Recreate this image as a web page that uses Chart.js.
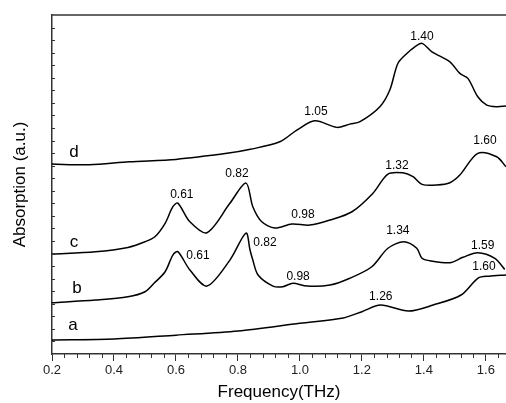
<!DOCTYPE html>
<html lang="en">
<head>
    <meta charset="UTF-8">
    <title>Absorption spectra</title>
    <script src="https://cdn.jsdelivr.net/npm/chart.js"></script>
    <style>
        html, body { margin: 0; padding: 0; background: #fff; }
        #wrap { width: 506px; height: 403px; }
    </style>
</head>
<body>
    <div id="wrap">
        <canvas id="absChart" width="506" height="403"></canvas>
    </div>
    <script>
        // curve a
        const freqA = [0.2, 0.4, 0.6, 0.8, 1.0, 1.14, 1.2, 1.26, 1.35, 1.43, 1.52, 1.575, 1.61, 1.665];
        const absA  = [1.11, 1.19, 1.5, 1.83, 2.45, 2.87, 3.37, 3.9, 3.42, 3.9, 4.7, 6.05, 6.2, 6.29];

        // curve b
        const freqB = [0.2, 0.34, 0.445, 0.5, 0.53, 0.565, 0.59, 0.606, 0.645, 0.70, 0.774, 0.826, 0.839, 0.848, 0.865,
                       0.913, 0.945, 0.977, 1.023, 1.097, 1.161, 1.232, 1.284, 1.335, 1.377, 1.394, 1.419,
                       1.484, 1.526, 1.574, 1.629, 1.661];
        const absB  = [4.08, 4.3, 4.56, 4.96, 5.65, 6.55, 7.88, 8.15, 6.69, 5.41, 7.48, 9.63, 8.28, 7.48, 6.29,
                       5.41, 5.36, 5.63, 5.41, 5.49, 6.03, 6.95, 8.42, 8.94, 8.42, 7.62, 7.43,
                       7.27, 7.7, 8.07, 7.62, 6.74];

        // curve c
        const freqC = [0.2, 0.34, 0.445, 0.5, 0.532, 0.565, 0.59, 0.606, 0.645, 0.70, 0.774, 0.826, 0.848, 0.877,
                       0.919, 0.974, 1.032, 1.097, 1.168, 1.235, 1.284, 1.332, 1.365, 1.394, 1.442,
                       1.484, 1.516, 1.574, 1.635, 1.665];
        const absC  = [7.96, 8.14, 8.49, 8.94, 9.34, 10.41, 11.73, 12.02, 10.53, 9.66, 12.0, 13.61, 11.73, 10.53,
                       10.03, 10.35, 10.27, 10.67, 11.33, 12.79, 14.33, 14.43, 14.12, 13.51, 13.46,
                       13.64, 14.25, 15.98, 15.71, 14.91];

        // curve d
        const freqD = [0.2, 0.32, 0.45, 0.6, 0.77, 0.84, 0.935, 0.99, 1.048, 1.119, 1.161, 1.194, 1.258,
                       1.29, 1.316, 1.345, 1.37, 1.394, 1.426, 1.484, 1.516, 1.542, 1.574, 1.603, 1.635, 1.665];
        const absD  = [15.13, 15.07, 15.31, 15.5, 16.0, 16.3, 16.9, 17.83, 18.57, 18.05, 18.31, 18.5, 19.69,
                       21.02, 23.14, 23.94, 24.45, 24.74, 24.07, 23.27, 22.35, 21.95, 20.49, 19.82, 19.69, 19.75];

        // text on the plot, placed at data coordinates
        const noteText = ['a', '1.26', '1.60', 'b', '0.61', '0.82', '0.98', '1.34', '1.59',
                          'c', '0.61', '0.82', '0.98', '1.32', '1.60', 'd', '1.05', '1.40'];
        const noteFreq = [0.268, 1.261, 1.594, 0.281, 0.671, 0.887, 0.994, 1.316, 1.59,
                          0.271, 0.619, 0.797, 1.01, 1.313, 1.597, 0.271, 1.052, 1.394];
        const noteAbs  = [2.31, 4.54, 6.93, 5.25, 7.8, 8.84, 6.13, 9.79, 8.6,
                          8.92, 12.66, 14.33, 11.07, 14.97, 16.96, 16.08, 19.27, 25.24];

        const xMin = 0.2, xMax = 1.665;
        const yMin = 0, yMax = 27;

        function toPoints(xs, ys) {
            return xs.map((x, i) => ({ x: x, y: ys[i] }));
        }

        function isMajor(v) {
            return Math.abs(v * 5 - Math.round(v * 5)) < 1e-6;
        }

        const framePlugin = {
            id: 'frame',
            afterDraw(chart) {
                const ctx = chart.ctx;
                const area = chart.chartArea;
                const xs = chart.scales.x;
                const ys = chart.scales.y;
                ctx.save();
                ctx.strokeStyle = '#333';
                ctx.lineWidth = 1.5;
                // top frame line
                ctx.beginPath();
                ctx.moveTo(area.left, area.top);
                ctx.lineTo(area.right, area.top);
                ctx.stroke();
                // minor ticks on x, below the axis
                ctx.lineWidth = 1;
                for (let i = 0; ; i++) {
                    const v = xMin + i * 0.04;
                    if (v > xMax + 1e-9) break;
                    if (isMajor(v)) continue;
                    const px = Math.round(xs.getPixelForValue(v)) + 0.5;
                    ctx.beginPath();
                    ctx.moveTo(px, area.bottom);
                    ctx.lineTo(px, area.bottom + 4);
                    ctx.stroke();
                }
                // y ticks, inside the plot
                for (let v = yMin + 1; v < yMax; v++) {
                    const py = Math.round(ys.getPixelForValue(v)) + 0.5;
                    ctx.beginPath();
                    ctx.moveTo(area.left, py);
                    ctx.lineTo(area.left + 3, py);
                    ctx.stroke();
                }
                // notes
                ctx.fillStyle = '#000';
                ctx.textAlign = 'center';
                ctx.textBaseline = 'middle';
                noteText.forEach((t, i) => {
                    ctx.font = t.length === 1 ? '17px "Liberation Sans", Arial, sans-serif'
                                              : '12px "Liberation Sans", Arial, sans-serif';
                    ctx.fillText(t, xs.getPixelForValue(noteFreq[i]), ys.getPixelForValue(noteAbs[i]));
                });
                ctx.restore();
            }
        };

        const lineStyle = {
            borderColor: '#000',
            borderWidth: 1.5,
            pointRadius: 0,
            fill: false,
            tension: 0.3
        };

        new Chart(document.getElementById('absChart').getContext('2d'), {
            type: 'line',
            data: {
                datasets: [
                    Object.assign({ label: 'a', data: toPoints(freqA, absA) }, lineStyle),
                    Object.assign({ label: 'b', data: toPoints(freqB, absB) }, lineStyle),
                    Object.assign({ label: 'c', data: toPoints(freqC, absC) }, lineStyle),
                    Object.assign({ label: 'd', data: toPoints(freqD, absD) }, lineStyle)
                ]
            },
            options: {
                responsive: false,
                animation: false,
                devicePixelRatio: 1,
                layout: { padding: { top: 15, right: 0, left: 0, bottom: 0 } },
                plugins: {
                    legend: { display: false },
                    tooltip: { enabled: false }
                },
                scales: {
                    x: {
                        type: 'linear',
                        min: xMin,
                        max: xMax,
                        afterFit(scale) { scale.height = 49; },
                        ticks: {
                            stepSize: 0.2,
                            includeBounds: false,
                            autoSkip: false,
                            maxRotation: 0,
                            padding: 2,
                            color: '#222',
                            font: { family: '"Liberation Sans", Arial, sans-serif', size: 13 },
                            callback: function(value) {
                                return isMajor(value) ? value.toFixed(1) : '';
                            }
                        },
                        grid: {
                            drawOnChartArea: false,
                            tickLength: 7,
                            color: ctx => (ctx.tick && isMajor(ctx.tick.value)) ? '#333' : 'rgba(0,0,0,0)'
                        },
                        border: { display: true, color: '#333', width: 1.5 },
                        title: {
                            display: true,
                            text: 'Frequency(THz)',
                            color: '#000',
                            padding: { top: 0, bottom: 0 },
                            font: { family: '"Liberation Sans", Arial, sans-serif', size: 17 }
                        }
                    },
                    y: {
                        type: 'linear',
                        min: yMin,
                        max: yMax,
                        afterFit(scale) { scale.width = 52; },
                        ticks: { display: false },
                        grid: { display: false, drawTicks: false },
                        border: { display: true, color: '#333', width: 1.5 },
                        title: {
                            display: true,
                            text: 'Absorption (a.u.)',
                            color: '#000',
                            padding: { top: 10, bottom: 0 },
                            font: { family: '"Liberation Sans", Arial, sans-serif', size: 17 }
                        }
                    }
                }
            },
            plugins: [framePlugin]
        });
    </script>
</body>
</html>
